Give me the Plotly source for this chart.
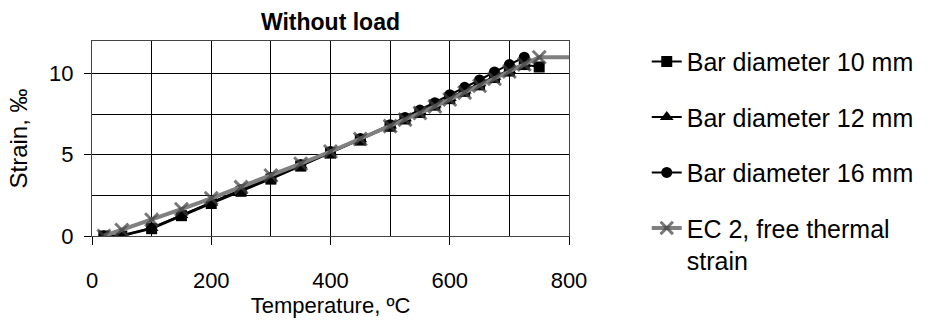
import plotly.graph_objects as go

# ---- data ----
temps = [20, 50, 100, 150, 200, 250, 300, 350, 400, 450, 500, 525, 550, 575,
         600, 625, 650, 675, 700, 725, 750]
strain_10mm = [0.0, 0.0, 0.45, 1.25, 2.0, 2.75, 3.5, 4.3, 5.1, 5.9, 6.75, 7.2,
               7.6, 8.05, 8.45, 8.9, 9.3, 9.75, 10.15, 10.55, 10.4]
temps_12 = temps[:-1]
strain_12mm = [0.0, 0.02, 0.5, 1.3, 2.05, 2.8, 3.55, 4.35, 5.15, 5.95, 6.8, 7.25,
               7.65, 8.1, 8.5, 8.95, 9.4, 9.8, 10.2, 10.6]
temps_16 = temps[:-1]
strain_16mm = [0.0, 0.05, 0.5, 1.3, 2.05, 2.85, 3.6, 4.4, 5.2, 6.0, 6.85, 7.3,
               7.75, 8.2, 8.7, 9.15, 9.6, 10.1, 10.55, 11.0]
temps_ec2 = temps + [860]
strain_ec2 = [0.0, 0.37, 1.0, 1.65, 2.32, 3.01, 3.72, 4.45, 5.2, 5.97, 6.76,
              7.16, 7.57, 7.98, 8.4, 8.82, 9.25, 9.68, 10.12, 10.56, 11.0, 11.0]
ec2_marker_sizes = [13] * len(temps) + [0]

series_names = ["Bar diameter 10 mm", "Bar diameter 12 mm", "Bar diameter 16 mm",
                "EC 2, free thermal<br>strain"]
x_ticks = [0, 200, 400, 600, 800]
y_ticks = [0, 5, 10]

FONT = "Arial, Liberation Sans, sans-serif"

fig = go.Figure()
fig.add_trace(go.Scatter(x=temps, y=strain_10mm, name=series_names[0], mode="lines+markers",
                         legendgroup="a",
                         line=dict(color="black", width=2),
                         marker=dict(symbol="square", size=11, color="black")))
fig.add_trace(go.Scatter(x=temps_12, y=strain_12mm, name=series_names[1], mode="lines+markers",
                         legendgroup="b",
                         line=dict(color="black", width=2),
                         marker=dict(symbol="triangle-up", size=12, color="black")))
fig.add_trace(go.Scatter(x=temps_16, y=strain_16mm, name=series_names[2], mode="lines+markers",
                         legendgroup="c",
                         line=dict(color="black", width=2),
                         marker=dict(symbol="circle", size=11, color="black")))
fig.add_trace(go.Scatter(x=temps_ec2, y=strain_ec2, name=series_names[3], mode="lines+markers",
                         legendgroup="d",
                         line=dict(color="#808080", width=4),
                         marker=dict(symbol="x-thin", size=ec2_marker_sizes, color="#404040",
                                     line=dict(color="#404040", width=3))))

fig.update_layout(
    width=934, height=321,
    margin=dict(l=92, r=365, t=41, b=70),
    paper_bgcolor="white", plot_bgcolor="white",
    font=dict(family=FONT, color="black", size=22),
    title=dict(text="<b>Without load</b>", x=(92 + 569) / 2 / 934, xanchor="center",
               y=1 - 22 / 321, yanchor="middle", font=dict(size=23, family=FONT)),
    showlegend=True,
    legend=dict(x=1.163, xanchor="left", y=1.012, yanchor="top",
                font=dict(size=25, family=FONT), tracegroupgap=20, valign="top",
                maxheight=320, bgcolor="rgba(0,0,0,0)"),
)
fig.update_xaxes(
    range=[0, 800], tickvals=x_ticks, ticks="outside", ticklen=8, tickcolor="black",
    showline=True, linecolor="#444", linewidth=1, mirror=True,
    showgrid=True, gridcolor="black", gridwidth=1, zeroline=False,
    minor=dict(tickvals=[100, 300, 500, 700], showgrid=True, gridcolor="black", ticks=""),
    ticklabelstandoff=17,
    title=dict(text="Temperature, ºC", standoff=0, font=dict(size=22)),
    tickfont=dict(size=22),
)
fig.update_yaxes(
    range=[0, 12], tickvals=y_ticks, ticks="outside", ticklen=7, tickcolor="black",
    showline=True, linecolor="#444", linewidth=1, mirror=True,
    showgrid=True, gridcolor="black", gridwidth=1, zeroline=False,
    minor=dict(tickvals=[2.5, 7.5], showgrid=True, gridcolor="black", ticks=""),
    ticklabelstandoff=6,
    title=dict(text="Strain, ‰", standoff=14, font=dict(size=24)),
    tickfont=dict(size=22),
)

fig.write_html("out.html")
